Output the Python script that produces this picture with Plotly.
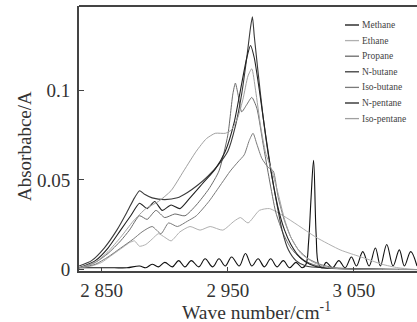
import plotly.graph_objects as go

# ---------------- data ----------------
series_names = ["Methane", "Ethane", "Propane", "N-butane", "Iso-butane", "N-pentane", "Iso-pentane"]

methane_x = [2832, 2840, 2850, 2860, 2870, 2880, 2885, 2890, 2895, 2900, 2906, 2911, 2916, 2921, 2927, 2932,
             2938, 2943, 2948, 2953, 2959, 2964, 2969, 2974, 2979, 2984, 2989, 2994, 2999, 3004, 3009, 3012,
             3014, 3016, 3018, 3020, 3022, 3025, 3028, 3033, 3038, 3043, 3048, 3052, 3057, 3062, 3067, 3071,
             3076, 3081, 3086, 3090, 3095, 3100]
methane_y = [0.001, 0.001, 0.001, 0.001, 0.001, 0.002, 0.001, 0.003, 0.0015, 0.004, 0.0015, 0.005, 0.0015, 0.005,
             0.0015, 0.006, 0.0015, 0.006, 0.002, 0.007, 0.002, 0.009, 0.002, 0.006, 0.0015, 0.006, 0.0015, 0.005,
             0.001, 0.004, 0.001, 0.003, 0.015, 0.040, 0.061, 0.020, 0.003, 0.001, 0.004, 0.001, 0.005, 0.001,
             0.007, 0.002, 0.010, 0.002, 0.012, 0.002, 0.014, 0.002, 0.011, 0.002, 0.010, 0.002]

ethane_x = [2832, 2842, 2850, 2856, 2862, 2868, 2872, 2876, 2880, 2885, 2890, 2895, 2900, 2905, 2912, 2920, 2928,
            2936, 2946, 2955, 2960, 2966, 2975, 2983, 2994, 3005, 3020, 3039, 3047, 3060, 3072, 3085, 3100]
ethane_y = [0.001, 0.002, 0.004, 0.007, 0.010, 0.013, 0.015, 0.016, 0.013, 0.014, 0.017, 0.020, 0.018, 0.016, 0.021,
            0.024, 0.022, 0.024, 0.022, 0.027, 0.029, 0.026, 0.033, 0.034, 0.030, 0.025, 0.018, 0.011, 0.009, 0.006,
            0.003, 0.001, 0.000]

propane_x = [2832, 2845, 2855, 2865, 2872, 2880, 2886, 2893, 2900, 2908, 2916, 2925, 2935, 2943, 2950, 2954, 2956,
             2958, 2961, 2965, 2969, 2973, 2978, 2983, 2988, 2994, 3000, 3008, 3017, 3028, 3100]
propane_y = [0.001, 0.004, 0.009, 0.016, 0.022, 0.030, 0.028, 0.033, 0.029, 0.031, 0.030, 0.036, 0.045, 0.055,
             0.075, 0.098, 0.104, 0.098, 0.088, 0.092, 0.096, 0.090, 0.070, 0.050, 0.032, 0.020, 0.012, 0.006,
             0.003, 0.001, 0.000]

nbutane_x = [2832, 2842, 2852, 2862, 2870, 2876, 2880, 2884, 2890, 2900, 2910, 2918, 2926, 2934, 2942, 2950, 2956,
             2961, 2965, 2968, 2969.5, 2971, 2974, 2978, 2983, 2988, 2993, 2998, 3004, 3012, 3025, 3100]
nbutane_y = [0.002, 0.005, 0.012, 0.022, 0.032, 0.040, 0.044, 0.042, 0.040, 0.039, 0.040, 0.043, 0.047, 0.052,
             0.058, 0.066, 0.080, 0.098, 0.118, 0.135, 0.141, 0.130, 0.110, 0.085, 0.060, 0.040, 0.022, 0.011,
             0.005, 0.002, 0.001, 0.000]

isobutane_x = [2832, 2845, 2855, 2865, 2875, 2882, 2890, 2897, 2903, 2910, 2918, 2925, 2935, 2945, 2952, 2958,
               2963, 2967, 2970, 2973, 2977, 2982, 2986, 2990, 2995, 3000, 3006, 3014, 3023, 3035, 3100]
isobutane_y = [0.001, 0.003, 0.007, 0.012, 0.017, 0.021, 0.024, 0.020, 0.026, 0.024, 0.027, 0.030, 0.038, 0.048,
               0.055, 0.060, 0.064, 0.072, 0.076, 0.070, 0.062, 0.057, 0.055, 0.040, 0.027, 0.018, 0.011, 0.006,
               0.003, 0.001, 0.000]

npentane_x = [2832, 2845, 2855, 2865, 2873, 2880, 2886, 2892, 2898, 2905, 2912, 2920, 2930, 2940, 2948, 2955, 2960,
              2965, 2968, 2971, 2975, 2980, 2985, 2990, 2995, 3000, 3007, 3015, 3025, 3100]
npentane_y = [0.001, 0.005, 0.012, 0.022, 0.030, 0.037, 0.034, 0.038, 0.033, 0.036, 0.034, 0.040, 0.048, 0.056,
              0.066, 0.082, 0.100, 0.118, 0.125, 0.118, 0.100, 0.075, 0.052, 0.034, 0.022, 0.014, 0.007, 0.003,
              0.001, 0.000]

isopentane_x = [2832, 2845, 2855, 2865, 2875, 2885, 2895, 2905, 2915, 2925, 2933, 2940, 2948, 2953, 2958, 2962,
                2966, 2969, 2972, 2976, 2980, 2985, 2990, 2995, 3000, 3008, 3018, 3030, 3100]
isopentane_y = [0.001, 0.004, 0.010, 0.018, 0.027, 0.034, 0.038, 0.044, 0.055, 0.066, 0.073, 0.076, 0.076, 0.078,
                0.085, 0.095, 0.108, 0.112, 0.100, 0.080, 0.065, 0.055, 0.042, 0.028, 0.018, 0.009, 0.004, 0.001,
                0.000]

x_tick_vals = [2850, 2950, 3050]
x_tick_text = ["2 850", "2 950", "3 050"]
y_tick_vals = [0, 0.05, 0.1]
y_tick_text = ["0", "0.05", "0.1"]

# ---------------- styling ----------------
xs = [methane_x, ethane_x, propane_x, nbutane_x, isobutane_x, npentane_x, isopentane_x]
ys = [methane_y, ethane_y, propane_y, nbutane_y, isobutane_y, npentane_y, isopentane_y]
colors = ["#111111", "#b0b0b0", "#6a6a6a", "#3a3a3a", "#7a7a7a", "#222222", "#a0a0a0"]
widths = [1.1, 1.0, 1.0, 1.1, 1.0, 1.1, 1.0]
smooth = [1.0, 0.6, 0.6, 0.6, 0.6, 0.6, 0.6]

SERIF = "Liberation Serif, Times New Roman, serif"
TXT = "#333333"

fig = go.Figure()
for name, x, y, c, w, s in zip(series_names, xs, ys, colors, widths, smooth):
    fig.add_trace(go.Scatter(x=x, y=y, mode="lines", name=name,
                             line=dict(color=c, width=w, shape="spline", smoothing=s),
                             showlegend=False))

# geometry of the plot area in pixels
W, H = 417, 322
L, R, T, B = 79, 417, 6, 271


def px_x(p):
    return (p - L) / (R - L)


def px_y(p):
    return (B - p) / (B - T)


# manual compact legend
leg_top_px = 25
leg_step_px = 15.6
for i, (name, c) in enumerate(zip(series_names, colors)):
    py = leg_top_px + i * leg_step_px
    fig.add_shape(type="line", xref="paper", yref="paper",
                  x0=px_x(345), x1=px_x(359), y0=px_y(py), y1=px_y(py),
                  line=dict(color=c, width=1.3))
    fig.add_annotation(xref="paper", yref="paper", x=px_x(360), y=px_y(py),
                       text=name, showarrow=False, xanchor="left", yanchor="middle",
                       font=dict(family=SERIF, size=9.5, color="#444444"))

# top frame line
fig.add_shape(type="line", xref="paper", yref="paper", x0=0, x1=1, y0=1, y1=1,
              line=dict(color="#444444", width=2))

# axis titles as annotations (precise placement)
fig.add_annotation(xref="paper", yref="paper", x=px_x(256), y=px_y(311),
                   text="Wave number/cm<sup>-1</sup>", showarrow=False,
                   xanchor="center", yanchor="middle", borderpad=0,
                   font=dict(family=SERIF, size=19.5, color=TXT))
fig.add_annotation(xref="paper", yref="paper", x=px_x(24), y=px_y(146),
                   text="Absorbabce/A", showarrow=False, textangle=-90,
                   xanchor="center", yanchor="middle",
                   font=dict(family=SERIF, size=19, color=TXT))

fig.update_layout(
    width=W, height=H,
    margin=dict(l=L, r=W - R, t=T, b=H - B),
    paper_bgcolor="white", plot_bgcolor="white",
    font=dict(family=SERIF, size=18, color=TXT),
    xaxis=dict(range=[2832, 3100], tickvals=x_tick_vals, ticktext=x_tick_text,
               showgrid=False, zeroline=False, showline=True, linecolor="#444444", linewidth=1.5,
               ticks="inside", ticklen=4, tickcolor="#444444", automargin=False,
               ticklabelstandoff=1,
               tickfont=dict(family=SERIF, size=19, color=TXT)),
    yaxis=dict(range=[-0.0008, 0.147], tickvals=y_tick_vals, ticktext=y_tick_text,
               showgrid=False, zeroline=False, showline=True, linecolor="#444444", linewidth=2,
               ticks="inside", ticklen=5, tickcolor="#444444", automargin=False,
               ticklabelstandoff=3,
               tickfont=dict(family=SERIF, size=19, color=TXT)),
)

fig.write_html("out.html", config={"displayModeBar": False},
               post_script="document.body.style.margin='0';document.body.style.overflow='hidden';")
